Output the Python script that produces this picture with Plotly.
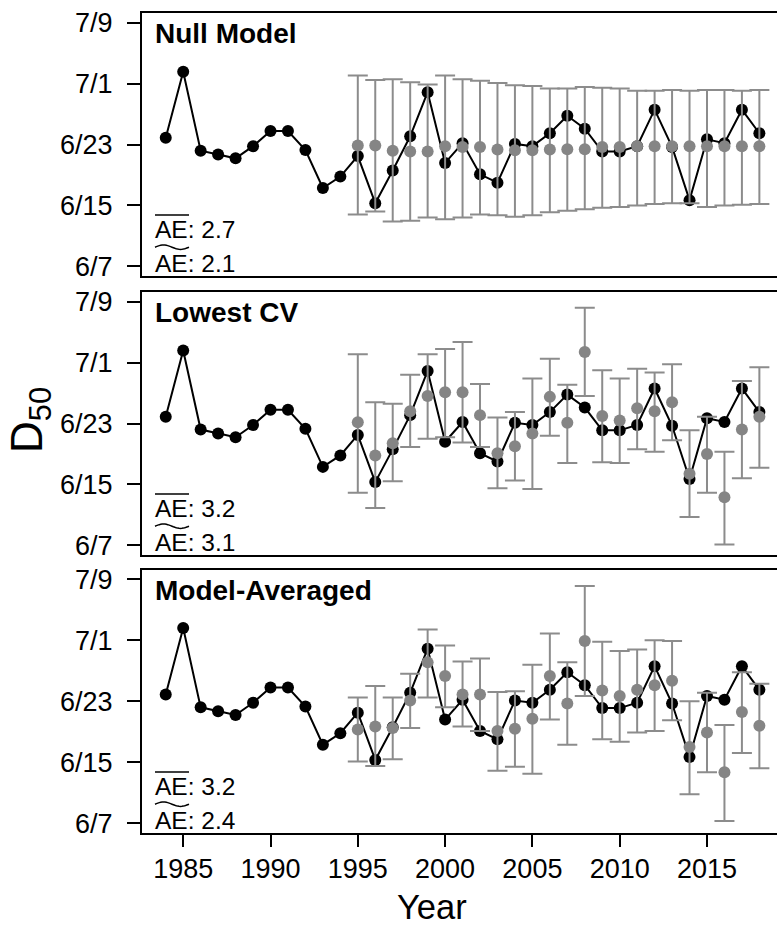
import math
import plotly.graph_objects as go

# Observed D50 (day of year) and three sets of predictions with intervals
years_obs = list(range(1984, 2019))
obs_d50 = [174.9, 183.6, 173.2, 172.7, 172.2, 173.8, 175.8, 175.8, 173.3, 168.3,
           169.8, 172.5, 166.3, 170.6, 175.1, 180.9, 171.6, 174.2, 170.1, 169.0,
           174.1, 173.8, 175.5, 177.8, 176.1, 173.1, 173.1, 173.8, 178.6, 173.7,
           166.7, 174.7, 174.2, 178.6, 175.5]

years_pred = list(range(1995, 2019))

null_pred = [173.9, 173.9, 173.2, 173.1, 173.1, 173.8, 173.7, 173.7, 173.35, 173.25,
             173.25, 173.35, 173.4, 173.4, 173.7, 173.7, 173.8, 173.8, 173.8, 173.8,
             173.8, 173.8, 173.8, 173.8]
null_upper = [183.1, 182.5, 182.6, 182.2, 181.9, 183.1, 182.6, 182.4, 182.1, 181.8,
              181.7, 181.4, 181.4, 181.6, 181.5, 181.4, 181.1, 181.1, 181.2, 181.1,
              181.2, 181.2, 181.1, 181.2]
null_lower = [164.8, 165.2, 163.9, 164.0, 164.4, 164.2, 164.4, 164.8, 164.7, 164.5,
              164.7, 165.1, 165.3, 165.5, 165.7, 165.8, 166.0, 166.2, 166.3, 166.3,
              165.8, 166.0, 166.1, 166.2]

cv_pred = [174.15, 169.8, 171.4, 175.6, 177.6, 178.1, 178.1, 175.1, 170.1, 171.0,
           172.7, 177.5, 174.1, 183.4, 175.0, 174.4, 176.0, 175.6, 176.8, 167.4,
           170.0, 164.3, 173.2, 174.9]
cv_upper = [183.1, 176.8, 176.6, 180.4, 183.1, 183.8, 184.7, 179.2, 174.8, 175.5,
            179.9, 182.5, 179.1, 189.2, 181.0, 179.9, 181.2, 180.7, 181.8, 173.1,
            174.9, 170.3, 179.6, 181.4]
cv_lower = [164.9, 162.9, 166.4, 170.9, 172.0, 172.2, 171.5, 170.9, 165.5, 166.5,
            165.4, 172.4, 168.8, 177.6, 168.9, 168.8, 170.6, 170.3, 171.8, 161.7,
            164.9, 158.1, 166.8, 168.2]

avg_pred = [170.3, 170.7, 170.5, 174.1, 179.1, 177.3, 174.9, 174.9, 170.1, 170.4,
            171.7, 177.3, 173.7, 181.9, 175.4, 174.7, 175.5, 176.1, 176.7, 168.0,
            169.9, 164.7, 172.6, 170.8]
avg_upper = [174.5, 176.0, 174.5, 177.6, 183.4, 181.3, 179.2, 179.6, 175.2, 175.3,
             178.8, 182.9, 179.1, 189.1, 181.8, 180.6, 180.8, 182.0, 181.9, 174.0,
             175.1, 170.9, 177.8, 176.3]
avg_lower = [166.1, 165.5, 166.4, 170.5, 174.5, 173.2, 170.7, 170.1, 164.9, 165.4,
             164.5, 171.6, 168.3, 174.7, 169.0, 168.7, 169.9, 170.1, 171.5, 161.8,
             164.7, 158.3, 167.2, 165.2]

panel_titles = ["Null Model", "Lowest CV", "Model-Averaged"]
mean_ae = ["2.7", "3.2", "3.2"]
median_ae = ["2.1", "3.1", "2.4"]

y_tickvals = [158, 166, 174, 182, 190]
y_ticktext = ["6/7", "6/15", "6/23", "7/1", "7/9"]
x_tickvals = [1985, 1990, 1995, 2000, 2005, 2010, 2015]

panels = [
    (null_pred, null_upper, null_lower),
    (cv_pred, cv_upper, cv_lower),
    (avg_pred, avg_upper, avg_lower),
]

# ---- layout geometry (pixels) ----
W, H = 777, 928
ML, MR, MT, MB = 142, 0, 13, 95
plot_h = H - MT - MB
plot_w = W - ML - MR
panel_px = [(13.3, 276.0), (292.0, 555.0), (569.5, 833.0)]  # top, bottom


def fy(py):
    return (H - MB - py) / plot_h


def fx(px):
    return (px - ML) / plot_w


FONT = "Arial, Liberation Sans, sans-serif"
GRAY = "#858585"
BAR_GRAY = "#8c8c8c"
AE_SIZE = 24.5
AE_X0, AE_X1 = 155.0, 189.0   # horizontal span of the "AE" glyphs


def tilde_path(x0, x1, yc, amp):
    # a wide tilde drawn as a short sine-shaped polyline in paper units
    pts = []
    for k in range(25):
        t = k / 24
        px = x0 + (x1 - x0) * t
        py = yc - amp * math.sin(2 * math.pi * t)
        pts.append(f"{fx(px):.5f},{fy(py):.5f}")
    return "M" + " L".join(pts)


fig = go.Figure()
layout = dict(
    width=W, height=H,
    margin=dict(l=ML, r=MR, t=MT, b=MB, pad=0),
    paper_bgcolor="white", plot_bgcolor="white",
    showlegend=False,
    font=dict(family=FONT, color="black"),
)
annotations = []
shapes = []

for i, (pred, upper, lower) in enumerate(panels):
    n = i + 1
    xa = "x" if n == 1 else f"x{n}"
    ya = "y" if n == 1 else f"y{n}"
    top, bot = panel_px[i]

    fig.add_trace(go.Scatter(
        x=years_obs, y=obs_d50, mode="lines+markers",
        line=dict(color="black", width=2),
        marker=dict(color="black", size=12),
        xaxis=xa, yaxis=ya,
    ))
    fig.add_trace(go.Scatter(
        x=years_pred, y=pred, mode="markers",
        marker=dict(color=GRAY, size=12),
        error_y=dict(
            type="data", symmetric=False,
            array=[u - p for u, p in zip(upper, pred)],
            arrayminus=[p - l for p, l in zip(pred, lower)],
            color=BAR_GRAY, thickness=2, width=10,
        ),
        xaxis=xa, yaxis=ya,
    ))

    last = (n == 3)
    layout["xaxis" if n == 1 else f"xaxis{n}"] = dict(
        domain=[0, 1], anchor=ya, range=[1982.64, 2019.01],
        showgrid=False, zeroline=False,
        showline=True, linecolor="black", linewidth=2, mirror=True,
        tickmode="array", tickvals=x_tickvals,
        ticks="outside" if last else "", ticklen=12, tickwidth=1.5, tickcolor="black",
        showticklabels=last, tickfont=dict(size=27, family=FONT, color="black"),
        ticklabelstandoff=-1,
    )
    layout["yaxis" if n == 1 else f"yaxis{n}"] = dict(
        domain=[fy(bot), fy(top)], anchor=xa, range=[156.72, 191.28],
        showgrid=False, zeroline=False,
        showline=True, linecolor="black", linewidth=2, mirror=False,
        tickmode="array", tickvals=y_tickvals, ticktext=y_ticktext,
        ticks="outside", ticklen=13, tickwidth=1.5, tickcolor="black",
        tickfont=dict(size=27, family=FONT, color="black"),
        ticklabelstandoff=9,
    )

    annotations.append(dict(
        xref="paper", yref="paper", x=fx(152.5), y=fy(top + 20.6),
        xanchor="left", yanchor="middle", showarrow=False,
        text=f"<b>{panel_titles[i]}</b>", font=dict(size=28, family=FONT, color="black"),
    ))
    base1 = bot - 37.7
    base2 = bot - 4.3
    annotations.append(dict(
        xref="paper", yref="paper", x=fx(153), y=fy(base1 - 0.3465 * AE_SIZE),
        xanchor="left", yanchor="middle", showarrow=False,
        text=f"AE: {mean_ae[i]}", font=dict(size=AE_SIZE, family=FONT, color="black"),
    ))
    annotations.append(dict(
        xref="paper", yref="paper", x=fx(153), y=fy(base2 - 0.3465 * AE_SIZE),
        xanchor="left", yanchor="middle", showarrow=False,
        text=f"AE: {median_ae[i]}", font=dict(size=AE_SIZE, family=FONT, color="black"),
    ))
    # bar over the mean, wavy bar over the median
    shapes.append(dict(
        type="line", xref="paper", yref="paper",
        x0=fx(AE_X0), x1=fx(AE_X1), y0=fy(base1 - 23.3), y1=fy(base1 - 23.3),
        line=dict(color="black", width=1.5),
    ))
    shapes.append(dict(
        type="path", xref="paper", yref="paper",
        path=tilde_path(AE_X0, AE_X1, base2 - 24.5, 2.2),
        line=dict(color="black", width=1.5),
    ))

annotations.append(dict(
    xref="paper", yref="paper", x=fx(432), y=fy(928),
    xanchor="center", yanchor="bottom", showarrow=False,
    text="Year", font=dict(size=34.5, family=FONT, color="black"),
))
annotations.append(dict(
    xref="paper", yref="paper", x=fx(30), y=fy(420),
    xanchor="center", yanchor="middle", showarrow=False, textangle=-90,
    text="D<sub>50</sub>", font=dict(size=44, family=FONT, color="black"),
))

layout["annotations"] = annotations
layout["shapes"] = shapes
fig.update_layout(**layout)
fig.write_html("out.html")
